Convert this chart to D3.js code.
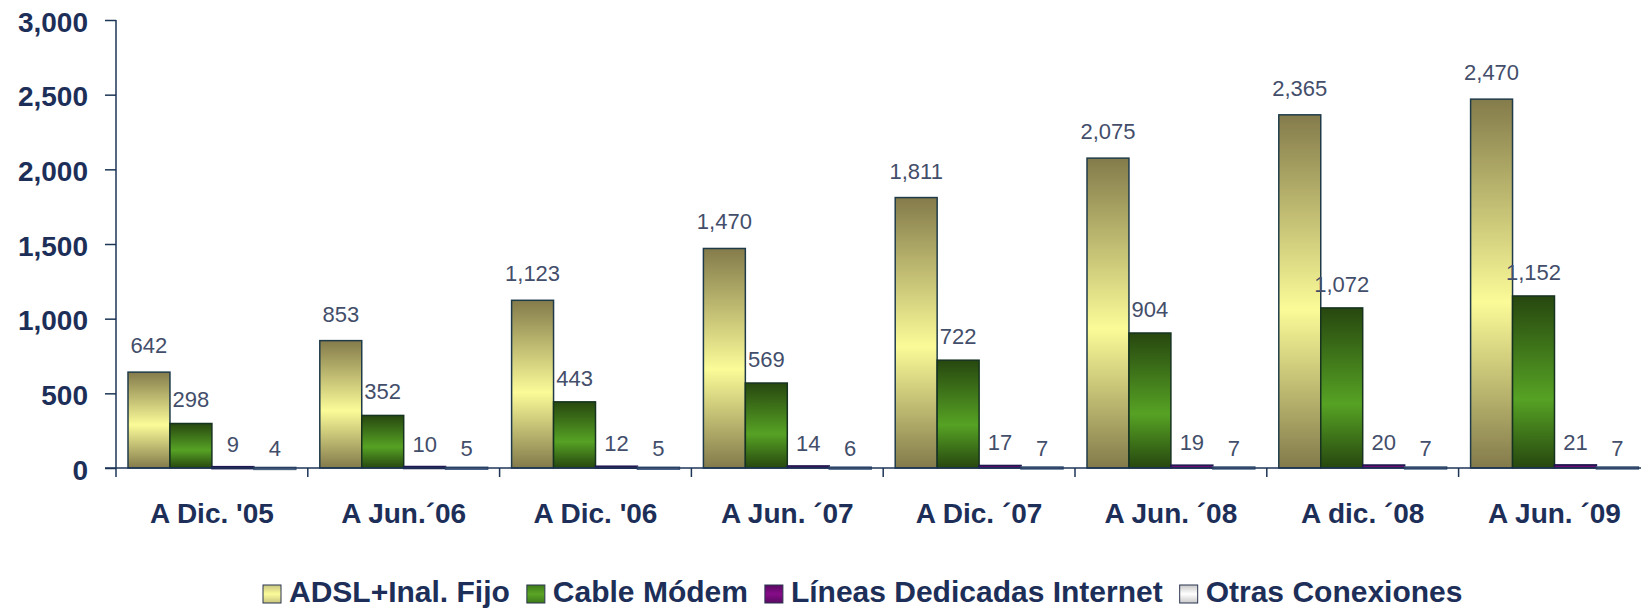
<!DOCTYPE html>
<html>
<head>
<meta charset="utf-8">
<script src="https://cdn.jsdelivr.net/npm/d3@7"></script>
<style>
  html, body { margin: 0; padding: 0; background: #fff; }
  svg { display: block; font-family: "Liberation Sans", Arial, sans-serif; }
</style>
</head>
<body>
<div class="canvas"></div>
<script>
// Data
const categories = ["A Dic. '05", "A Jun.\u00b406", "A Dic. '06", "A Jun. \u00b407", "A Dic. \u00b407", "A Jun. \u00b408", "A dic. \u00b408", "A Jun. \u00b409"];
const seriesNames = ["ADSL+Inal. Fijo", "Cable Módem", "Líneas Dedicadas Internet", "Otras Conexiones"];
const adsl = [642, 853, 1123, 1470, 1811, 2075, 2365, 2470];
const cable = [298, 352, 443, 569, 722, 904, 1072, 1152];
const lineas = [9, 10, 12, 14, 17, 19, 20, 21];
const otras = [4, 5, 5, 6, 7, 7, 7, 7];
const yTicks = [0, 500, 1000, 1500, 2000, 2500, 3000];

const seriesValues = [adsl, cable, lineas, otras];

// Setup
const width = 1641;
const height = 611;
const plotLeft = 116;
const plotTop = 20;
const plotBottom = 468;
const bandW = 191.8;

const svg = d3.select(".canvas").append("svg")
  .attr("width", width)
  .attr("height", height);

// gradients
const defs = svg.append("defs");
function vGrad(id, stops) {
  const g = defs.append("linearGradient").attr("id", id)
    .attr("x1", 0).attr("y1", 0).attr("x2", 0).attr("y2", 1);
  stops.forEach(([o, c]) => g.append("stop").attr("offset", o).attr("stop-color", c));
}
vGrad("g0", [["0%", "#847b4b"], ["55%", "#fbfb98"], ["100%", "#837a4b"]]);
vGrad("g1", [["0%", "#27470f"], ["60%", "#56a224"], ["100%", "#27470f"]]);
vGrad("g2", [["0%", "#3a0a55"], ["50%", "#6e0a72"], ["100%", "#3a0a55"]]);
vGrad("g3", [["0%", "#c9d6e8"], ["50%", "#ffffff"], ["100%", "#c9d6e8"]]);
vGrad("l0", [["0%", "#c9c680"], ["50%", "#fbfb9a"], ["100%", "#c9c680"]]);
vGrad("l1", [["0%", "#3e7a18"], ["50%", "#5aa626"], ["100%", "#3e7a18"]]);
vGrad("l2", [["0%", "#5a0a62"], ["50%", "#860c88"], ["100%", "#5a0a62"]]);
vGrad("l3", [["0%", "#c8c8c8"], ["50%", "#ffffff"], ["100%", "#c8c8c8"]]);

const fills = ["url(#g0)", "url(#g1)", "url(#g2)", "url(#g3)"];
const legendFills = ["url(#l0)", "url(#l1)", "url(#l2)", "url(#l3)"];
const strokes = ["#1f3b4a", "#163320", "#1e1a50", "#4a6285"];
const labelGap = [19, 16, 15, 11];

// Scales
const x0 = d3.scaleBand()
  .domain(categories)
  .range([plotLeft, plotLeft + bandW * categories.length])
  .padding(0);
const x1 = d3.scaleBand()
  .domain(d3.range(seriesValues.length))
  .range([12, bandW - 12])
  .padding(0);
const y = d3.scaleLinear().domain([0, 3000]).range([plotBottom, plotTop]);

const axisColor = "#1d3557";

// Y axis
const yAxis = d3.axisLeft(y).tickValues(yTicks).tickFormat(d3.format(",")).tickSize(11).tickPadding(17);
const yG = svg.append("g").attr("transform", `translate(${plotLeft},0)`).call(yAxis);
yG.select(".domain").remove();
yG.selectAll("line").attr("stroke", axisColor).attr("stroke-width", 1.5);
yG.selectAll("text")
  .attr("fill", "#1d2f58")
  .attr("font-size", 28)
  .attr("font-weight", "bold")
  .attr("font-family", "Liberation Sans, Arial, sans-serif")
  .attr("dy", "0.4em");
svg.append("line")
  .attr("x1", plotLeft).attr("x2", plotLeft)
  .attr("y1", plotTop).attr("y2", plotBottom + 9)
  .attr("stroke", axisColor).attr("stroke-width", 1.5);

// Bars
const groups = svg.append("g").selectAll("g")
  .data(categories)
  .join("g")
  .attr("transform", (d) => `translate(${x0(d)},0)`);

groups.selectAll("rect")
  .data((d, i) => seriesValues.map((vals, s) => ({ s, v: vals[i] })))
  .join("rect")
  .attr("x", (d) => x1(d.s))
  .attr("width", x1.bandwidth())
  .attr("y", (d) => y(d.v))
  .attr("height", (d) => Math.max(plotBottom - y(d.v), 2))
  .attr("fill", (d) => fills[d.s])
  .attr("stroke", (d) => strokes[d.s])
  .attr("stroke-width", 1.5);

groups.selectAll("text")
  .data((d, i) => seriesValues.map((vals, s) => ({ s, v: vals[i] })))
  .join("text")
  .attr("x", (d) => x1(d.s) + x1.bandwidth() / 2)
  .attr("y", (d) => y(d.v) - labelGap[d.s])
  .attr("text-anchor", "middle")
  .attr("font-size", 22)
  .attr("fill", "#434e6a")
  .text((d) => d3.format(",")(d.v));

// X axis
svg.append("line")
  .attr("x1", plotLeft - 11).attr("x2", width)
  .attr("y1", plotBottom).attr("y2", plotBottom)
  .attr("stroke", axisColor).attr("stroke-width", 1.5);
svg.append("g").selectAll("line")
  .data(categories.slice(1))
  .join("line")
  .attr("x1", (d) => x0(d)).attr("x2", (d) => x0(d))
  .attr("y1", plotBottom).attr("y2", plotBottom + 9)
  .attr("stroke", axisColor).attr("stroke-width", 1.5);
svg.append("g").selectAll("text")
  .data(categories)
  .join("text")
  .attr("x", (d) => x0(d) + bandW / 2)
  .attr("y", 523)
  .attr("text-anchor", "middle")
  .attr("font-size", 28)
  .attr("font-weight", "bold")
  .attr("fill", "#1d2f58")
  .text((d) => d);

// Legend
const legend = svg.append("g").attr("transform", "translate(263,0)");
let lx = 0;
seriesNames.forEach((name, i) => {
  legend.append("rect")
    .attr("x", lx).attr("y", 585)
    .attr("width", 18).attr("height", 18)
    .attr("fill", legendFills[i])
    .attr("stroke", "#2b3550").attr("stroke-width", 1);
  const t = legend.append("text")
    .attr("x", lx + 26).attr("y", 602)
    .attr("font-size", 30)
    .attr("font-weight", "bold")
    .attr("fill", "#1d2f58")
    .text(name);
  lx += 26 + t.node().getComputedTextLength() + 17;
});
</script>
</body>
</html>
